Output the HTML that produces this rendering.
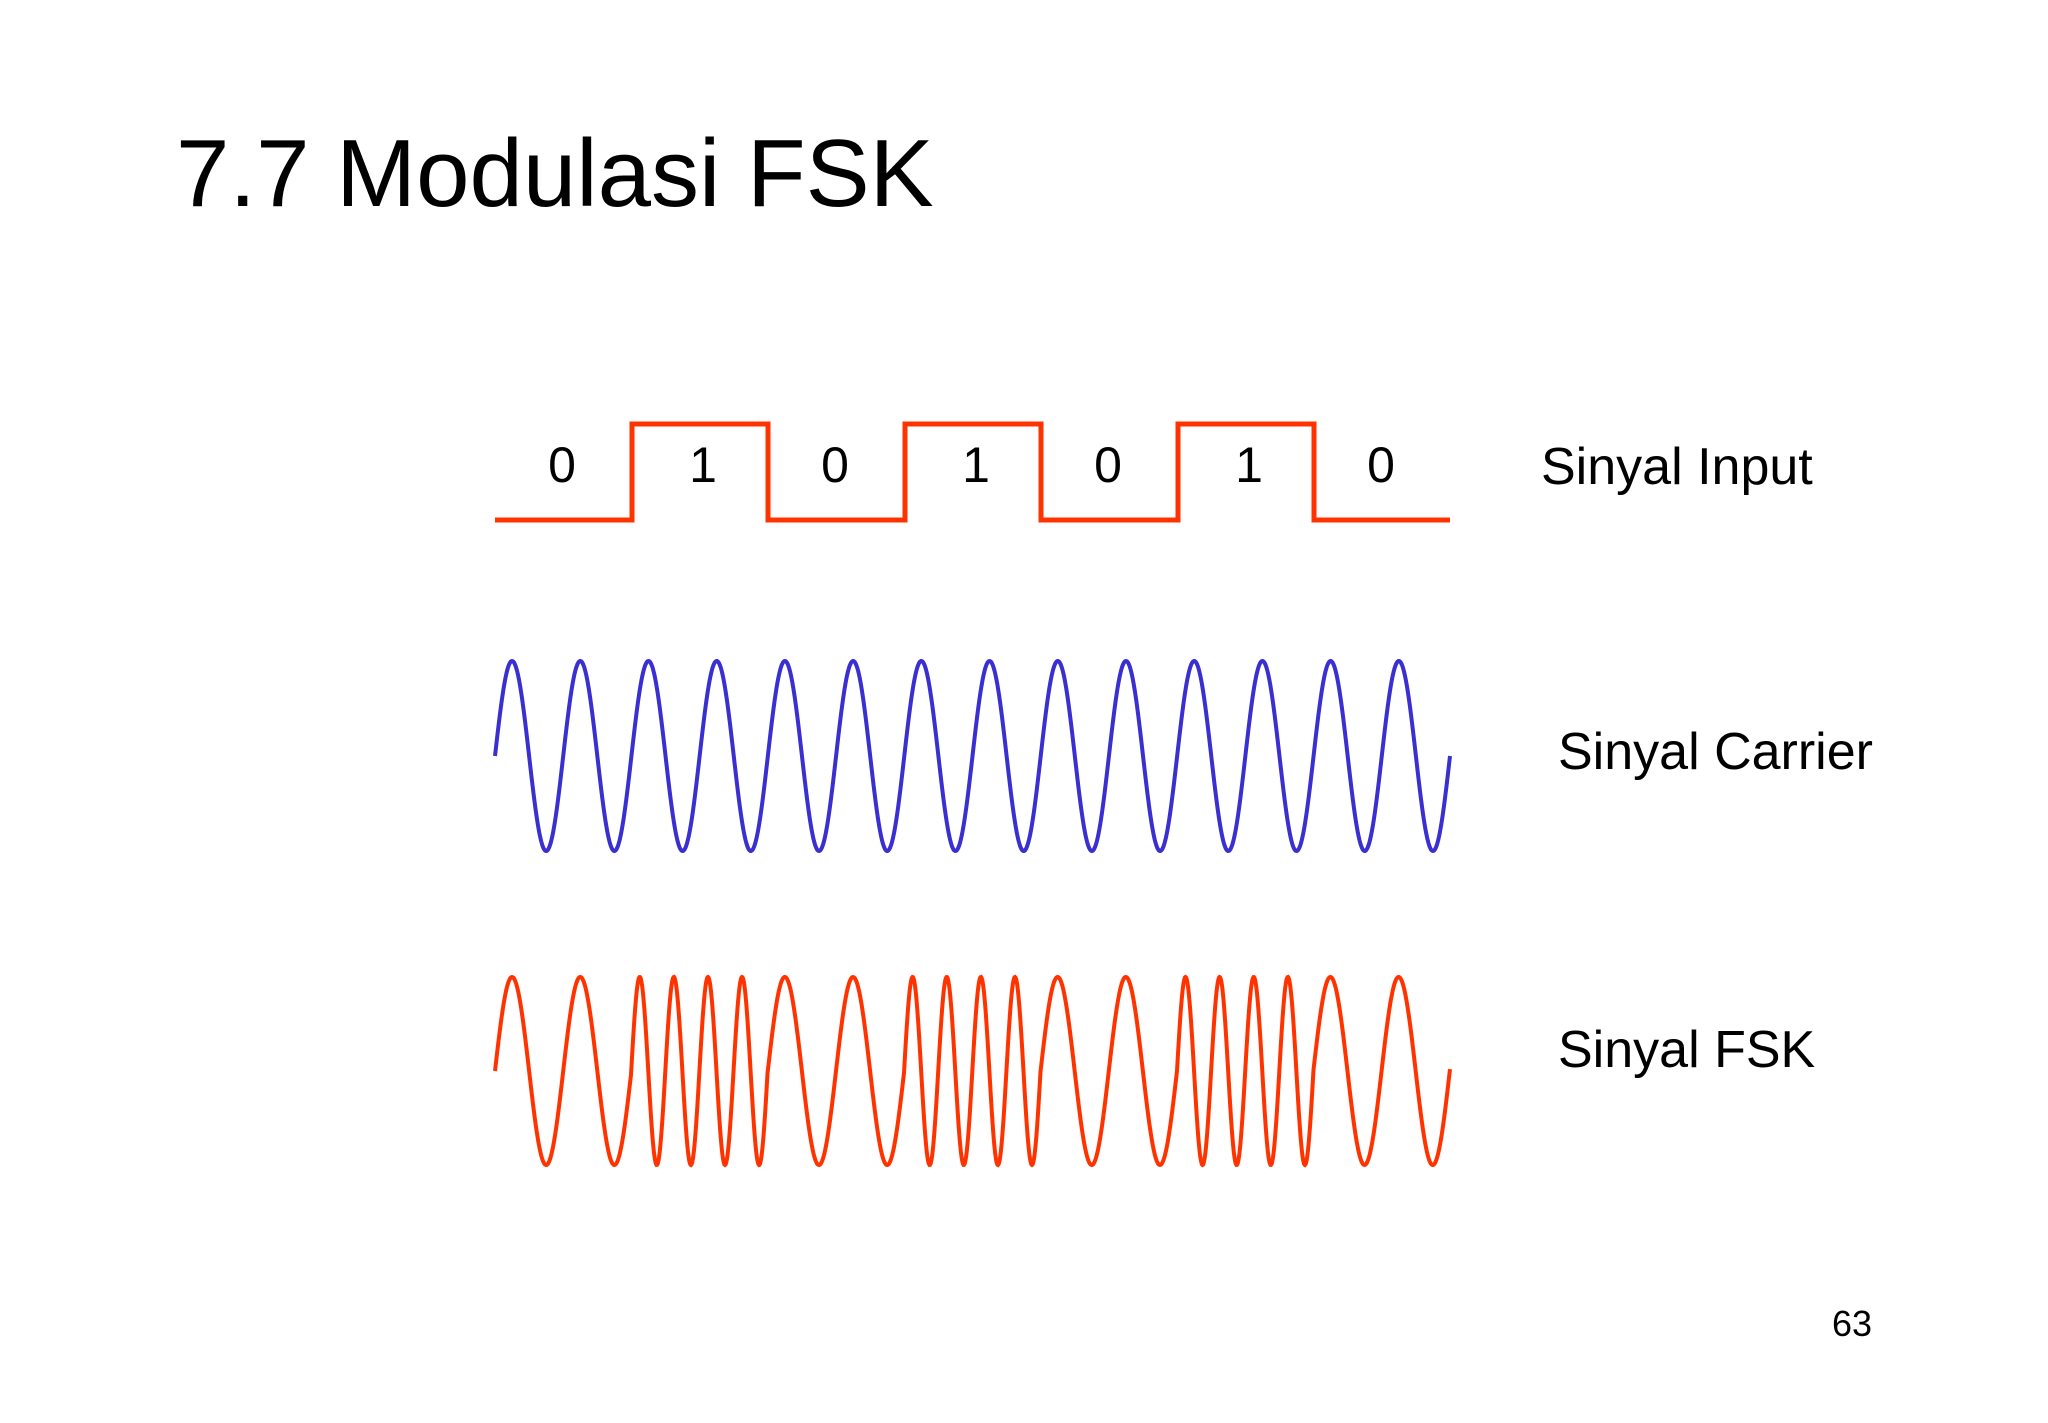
<!DOCTYPE html>
<html><head><meta charset="utf-8"><style>
html,body{margin:0;padding:0;background:#fff;}
body{width:2048px;height:1418px;overflow:hidden;font-family:"Liberation Sans",sans-serif;}
</style></head><body>
<svg id="s" width="2048" height="1418" viewBox="0 0 2048 1418" xmlns="http://www.w3.org/2000/svg">
<text x="176" y="206" font-family="Liberation Sans, sans-serif" font-size="96" fill="#000">7.7 Modulasi FSK</text>
<polyline points="495,520 632,520 632,424 768,424 768,520 905,520 905,424 1041,424 1041,520 1178,520 1178,424 1314,424 1314,520 1450,520" fill="none" stroke="#ff3300" stroke-width="5"/>
<g font-family="Liberation Sans, sans-serif" font-size="50" fill="#000" text-anchor="middle">
<text x="562" y="482">0</text><text x="703" y="482">1</text><text x="835" y="482">0</text><text x="976" y="482">1</text><text x="1108" y="482">0</text><text x="1249" y="482">1</text><text x="1381" y="482">0</text>
</g>
<g font-family="Liberation Sans, sans-serif" font-size="52" fill="#000">
<text x="1541" y="484">Sinyal Input</text>
<text x="1558" y="769">Sinyal Carrier</text>
<text x="1558" y="1067">Sinyal FSK</text>
</g>
<text x="1832" y="1336" font-family="Liberation Sans, sans-serif" font-size="36" fill="#000">63</text>
<path id="car" fill="none" stroke="#3a2fd0" stroke-width="4"/>
<path id="fsk" fill="none" stroke="#ff3300" stroke-width="4"/>
</svg>
<script>
(function(){
var x0=495,x1=1450,W=(x1-x0)/7;
var d="";
for(var x=x0;x<=x1;x+=0.5){var y=756-95*Math.sin(2*Math.PI*(x-x0)/(W/2));d+=(x==x0?"M":"L")+x.toFixed(1)+","+y.toFixed(1);}
document.getElementById("car").setAttribute("d",d);
var bits=[0,1,0,1,0,1,0];d="";var ph=0;
for(var x=x0;x<=x1;x+=0.5){var b=Math.min(6,Math.floor((x-x0)/W));var f=bits[b]?4:2;if(x>x0)ph+=2*Math.PI*f*0.5/W;var y=1071-94*Math.sin(ph);d+=(x==x0?"M":"L")+x.toFixed(1)+","+y.toFixed(1);}
document.getElementById("fsk").setAttribute("d",d);
})();
</script>
</body></html>
